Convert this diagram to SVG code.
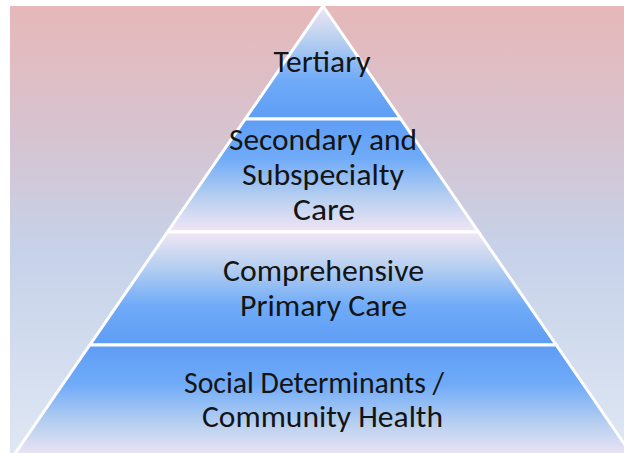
<svg xmlns="http://www.w3.org/2000/svg" width="624" height="453" viewBox="0 0 624 453">
<defs>
<linearGradient id="bg" x1="0" y1="0" x2="0" y2="1">
<stop offset="0" stop-color="#e6b8b9"/>
<stop offset="0.3" stop-color="#d6c4d1"/>
<stop offset="0.55" stop-color="#c6d2e9"/>
<stop offset="1" stop-color="#dfe7f4"/>
</linearGradient>
<linearGradient id="up" x1="0" y1="0" x2="0" y2="1">
<stop offset="0" stop-color="#f1e6f4"/>
<stop offset="0.3" stop-color="#b8d0f0"/>
<stop offset="0.65" stop-color="#70abf8"/>
<stop offset="1" stop-color="#5e9df5"/>
</linearGradient>
<linearGradient id="down" x1="0" y1="0" x2="0" y2="1">
<stop offset="0" stop-color="#5e9df5"/>
<stop offset="0.35" stop-color="#70abf8"/>
<stop offset="0.7" stop-color="#b8d0f0"/>
<stop offset="1" stop-color="#f1e6f4"/>
</linearGradient>
<style>
.band{stroke:#ffffff;stroke-width:3;stroke-linejoin:miter}
.t{font-family:Carlito,Lato,"Liberation Sans",sans-serif;font-size:30px;fill:#141414;text-anchor:middle}
</style>
</defs>
<rect x="10" y="6" width="614" height="447" fill="url(#bg)"/>
<g id="tertiary">
<polygon class="band" points="323,6 400.7,119 245.3,119" fill="url(#up)"/>
<text class="t" x="322" y="72" textLength="97" lengthAdjust="spacingAndGlyphs">Tertiary</text>
</g>
<g id="secondary">
<polygon class="band" points="245.3,119 400.7,119 478.5,232 167.5,232" fill="url(#down)"/>
<text class="t" x="323" y="150" textLength="188" lengthAdjust="spacingAndGlyphs">Secondary and</text>
<text class="t" x="323" y="185" textLength="162" lengthAdjust="spacingAndGlyphs">Subspecialty</text>
<text class="t" x="324" y="220" textLength="62" lengthAdjust="spacingAndGlyphs">Care</text>
</g>
<g id="primary">
<polygon class="band" points="167.5,232 478.5,232 556.2,345 89.8,345" fill="url(#up)"/>
<text class="t" x="323.5" y="281" textLength="201" lengthAdjust="spacingAndGlyphs">Comprehensive</text>
<text class="t" x="323.5" y="316" textLength="167" lengthAdjust="spacingAndGlyphs">Primary Care</text>
</g>
<g id="community">
<polygon class="band" points="89.8,345 556.2,345 634,458 12,458" fill="url(#down)"/>
<text class="t" x="314" y="393" textLength="260" lengthAdjust="spacingAndGlyphs">Social Determinants /</text>
<text class="t" x="322.5" y="427" textLength="241" lengthAdjust="spacingAndGlyphs">Community Health</text>
</g>
<g id="connectors"/>
</svg>
